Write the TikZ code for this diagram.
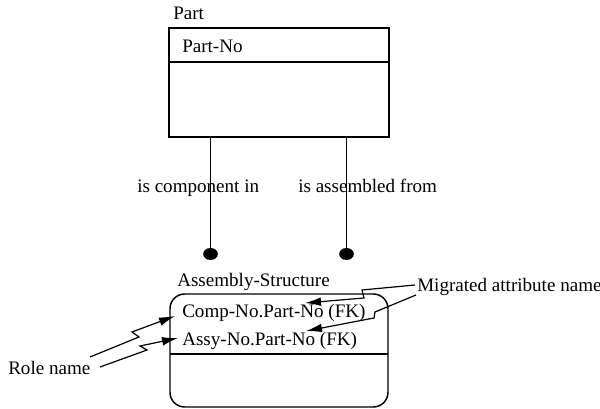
\documentclass[tikz,border=0pt]{standalone}
\usepackage{fontspec}
\setmainfont{Liberation Serif}
\usetikzlibrary{arrows.meta,shapes.geometric}
\begin{document}
\begin{tikzpicture}[x=0.75pt,y=-0.75pt,
  lbl/.style={anchor=base west,inner sep=0pt,font=\fontsize{14.3}{16}\selectfont},
  box/.style={draw,line width=1.1pt},
  rel/.style={line width=1.1pt},
  dotend/.style={fill=black,ellipse,minimum width=11pt,minimum height=9pt,inner sep=0pt},
  zz/.style={line width=0.9pt,-{Latex[length=12pt,width=6.5pt]}}]
\useasboundingbox (0,0) rectangle (600,409);
% Part entity
\node[lbl] (partlbl) at (173,20) {Part};
\draw[box] (169,28) rectangle (389,137);
\coordinate (pdivl) at (169,62);
\coordinate (pdivr) at (389,62);
\draw[box] (pdivl) -- (pdivr);
\node[lbl] (partno) at (182,53) {Part-No};
% Assembly-Structure entity
\node[lbl] (aslbl) at (177,287) {Assembly-Structure};
\draw[box,rounded corners=11pt] (170,294) rectangle (388,407);
\coordinate (adivl) at (170,354);
\coordinate (adivr) at (388,354);
\draw[box] (adivl) -- (adivr);
\node[lbl] (comp) at (182,318) {Comp-No.Part-No (FK)};
\node[lbl] (assy) at (182,346) {Assy-No.Part-No (FK)};
% relationships
\coordinate (r1top) at (210.5,137);
\coordinate (r2top) at (346.5,137);
\node[dotend] (d1) at (210.5,254) {};
\node[dotend] (d2) at (346.5,254) {};
\draw[rel] (r1top) -- (d1.center);
\draw[rel] (r2top) -- (d2.center);
\node[lbl] (rl1) at (137,193) {is component in};
\node[lbl] (rl2) at (298,193) {is assembled from};
% annotations
\node[lbl] (role) at (8,375) {Role name};
\node[lbl] (mig) at (417,292) {Migrated attribute name};
\draw[zz] (90,357) -- (139,337) -- (132,332) -- (175,316);
\draw[zz] (100,367) -- (147,350) -- (140,346) -- (178,338);
\draw[zz] (415,285) -- (362,290) -- (364,298) -- (305,303);
\draw[zz] (416,295) -- (375,312) -- (374,318) -- (306,331);
\end{tikzpicture}
\end{document}
